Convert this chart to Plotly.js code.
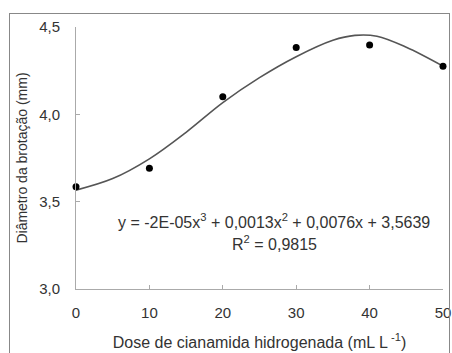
<!DOCTYPE html>
<html>
<head>
<meta charset="utf-8">
<script src="https://cdn.plot.ly/plotly-3.0.1.min.js"></script>
<style>
html,body{margin:0;padding:0;background:#fff;}
#wrap{position:relative;width:452px;height:353px;overflow:hidden;}
#chart{width:452px;height:353px;}
#frame{position:absolute;left:9px;top:13px;width:439px;height:360px;border:1px solid #888;pointer-events:none;}
</style>
</head>
<body>
<div id="wrap"><div id="chart"></div><div id="frame"></div></div>
<script>
// Observed data
const doses = [0, 10, 20, 30, 40, 50];
const diameters = [3.586, 3.692, 4.10, 4.383, 4.397, 4.276];
// Fitted curve
const curveX = [0, 5, 10, 15, 20, 25, 30, 35, 38, 41, 45, 50];
const curveY = [3.566, 3.632, 3.745, 3.897, 4.067, 4.210, 4.330, 4.424, 4.452, 4.447, 4.384, 4.276];
const xTicks = [0, 10, 20, 30, 40, 50];
const yTicks = [3.0, 3.5, 4.0, 4.5];
const eqText = 'y = -2E-05x<sup>3</sup> + 0,0013x<sup>2</sup> + 0,0076x + 3,5639';
const r2Text = 'R<sup>2</sup> = 0,9815';

const fam = 'Liberation Sans, Arial, sans-serif';
const txt = '#333';

Plotly.newPlot('chart', [
  {x: curveX, y: curveY, mode: 'lines', line: {color: '#555', width: 1.6, shape: 'spline', smoothing: 1}, hoverinfo: 'skip', cliponaxis: false},
  {x: doses, y: diameters, mode: 'markers', marker: {color: '#000', size: 7}, cliponaxis: false}
], {
  width: 452, height: 353,
  margin: {l: 76, r: 9, t: 27, b: 64},
  showlegend: false,
  separators: ',.',
  paper_bgcolor: '#fff', plot_bgcolor: '#fff',
  font: {family: fam, size: 14, color: txt},
  xaxis: {
    range: [0, 50], tickvals: xTicks, showgrid: false, zeroline: false,
    showline: true, linecolor: '#aaa', linewidth: 1,
    ticks: 'inside', ticklen: 4, tickcolor: '#aaa',
    ticklabelstandoff: 10,
    tickfont: {family: fam, size: 15, color: txt},
    title: {text: 'Dose de cianamida hidrogenada (mL L<sup> -1</sup>)', font: {family: fam, size: 16, color: txt}, standoff: 16}
  },
  yaxis: {
    range: [3, 4.5], tickvals: yTicks, tickformat: '.1f', showgrid: false, zeroline: false,
    showline: true, linecolor: '#aaa', linewidth: 1,
    ticks: 'inside', ticklen: 4, tickcolor: '#aaa',
    ticklabelstandoff: 12,
    tickfont: {family: fam, size: 15, color: txt},
    title: {text: 'Diâmetro da brotação (mm)', font: {family: fam, size: 14, color: txt}, standoff: 8}
  },
  annotations: [
    {xref: 'paper', yref: 'paper', x: (274-76)/367, y: (288.7-221)/261.7, text: eqText, showarrow: false, xanchor: 'center', yanchor: 'middle', font: {family: fam, size: 16, color: txt}},
    {xref: 'paper', yref: 'paper', x: (274-76)/367, y: (288.7-243)/261.7, text: r2Text, showarrow: false, xanchor: 'center', yanchor: 'middle', font: {family: fam, size: 16, color: txt}}
  ]
}, {displayModeBar: false, staticPlot: true});
</script>
</body>
</html>
